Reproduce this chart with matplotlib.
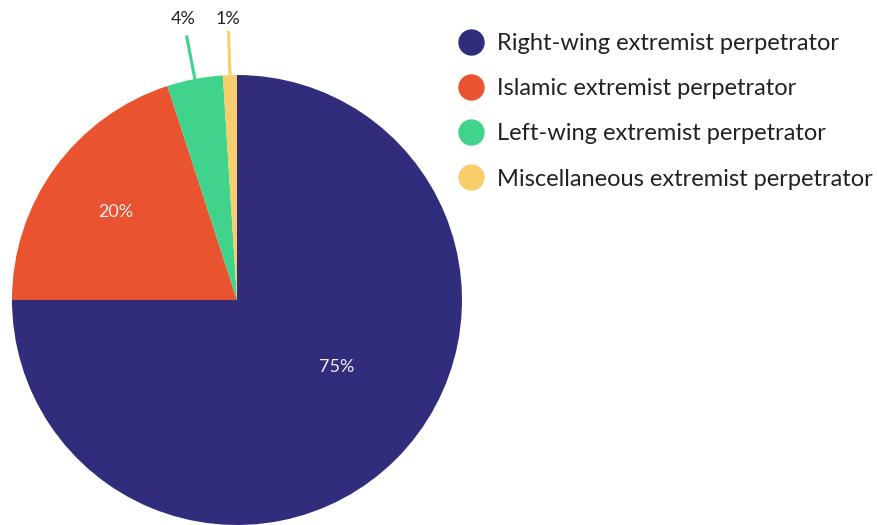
import numpy as np
import matplotlib.pyplot as plt
from matplotlib.lines import Line2D

plt.rcParams['font.family'] = ['Lato', 'DejaVu Sans']

# data
categories = [
    "Right-wing extremist perpetrator",
    "Islamic extremist perpetrator",
    "Left-wing extremist perpetrator",
    "Miscellaneous extremist perpetrator",
]
shares = [75, 20, 4, 1]
colors = ["#302d7d", "#e9532f", "#40d38b", "#f8ce6c"]

fig = plt.figure(figsize=(8.78, 5.25), dpi=100)
ax = fig.add_axes([12 / 878, 0.0, 450 / 878, 450 / 525])

wedges, texts, autotexts = ax.pie(
    shares,
    colors=colors,
    startangle=90,
    counterclock=False,
    radius=1.0,
    autopct=lambda p: f"{p:.0f}%",
    pctdistance=0.665,
    textprops=dict(fontsize=13, color="#f4ecf0"),
    wedgeprops=dict(linewidth=0),
)
ax.set_xlim(-1, 1)
ax.set_ylim(-1, 1)
ax.set_aspect("equal")
ax.axis("off")

# big slices labelled inside, small ones outside with leader lines
for i, (w, t) in enumerate(zip(wedges, autotexts)):
    ang = np.deg2rad((w.theta1 + w.theta2) / 2)
    if shares[i] < 10:
        t.set_visible(False)
        ax.plot([np.cos(ang), 1.19 * np.cos(ang)],
                [np.sin(ang), 1.19 * np.sin(ang)],
                color=colors[i], lw=2.2, clip_on=False)
        ax.text(1.27 * np.cos(ang), 1.25, f"{shares[i]}%",
                ha="center", va="center", fontsize=13, color="#222222")
    elif i == 0:
        t.set_position((0.535 * np.cos(np.deg2rad(-34)), 0.535 * np.sin(np.deg2rad(-34))))

handles = [Line2D([0], [0], marker="o", linestyle="none", markersize=18,
                  markerfacecolor=c, markeredgecolor=c) for c in colors]
fig.legend(handles, categories, loc="upper left",
           bbox_to_anchor=(446 / 878, 1 - 21 / 525),
           frameon=False, fontsize=17, handlelength=1.1, handletextpad=0.55,
           labelspacing=1.03, borderpad=0, labelcolor="#222222")

fig.savefig("out.png", dpi=100)
